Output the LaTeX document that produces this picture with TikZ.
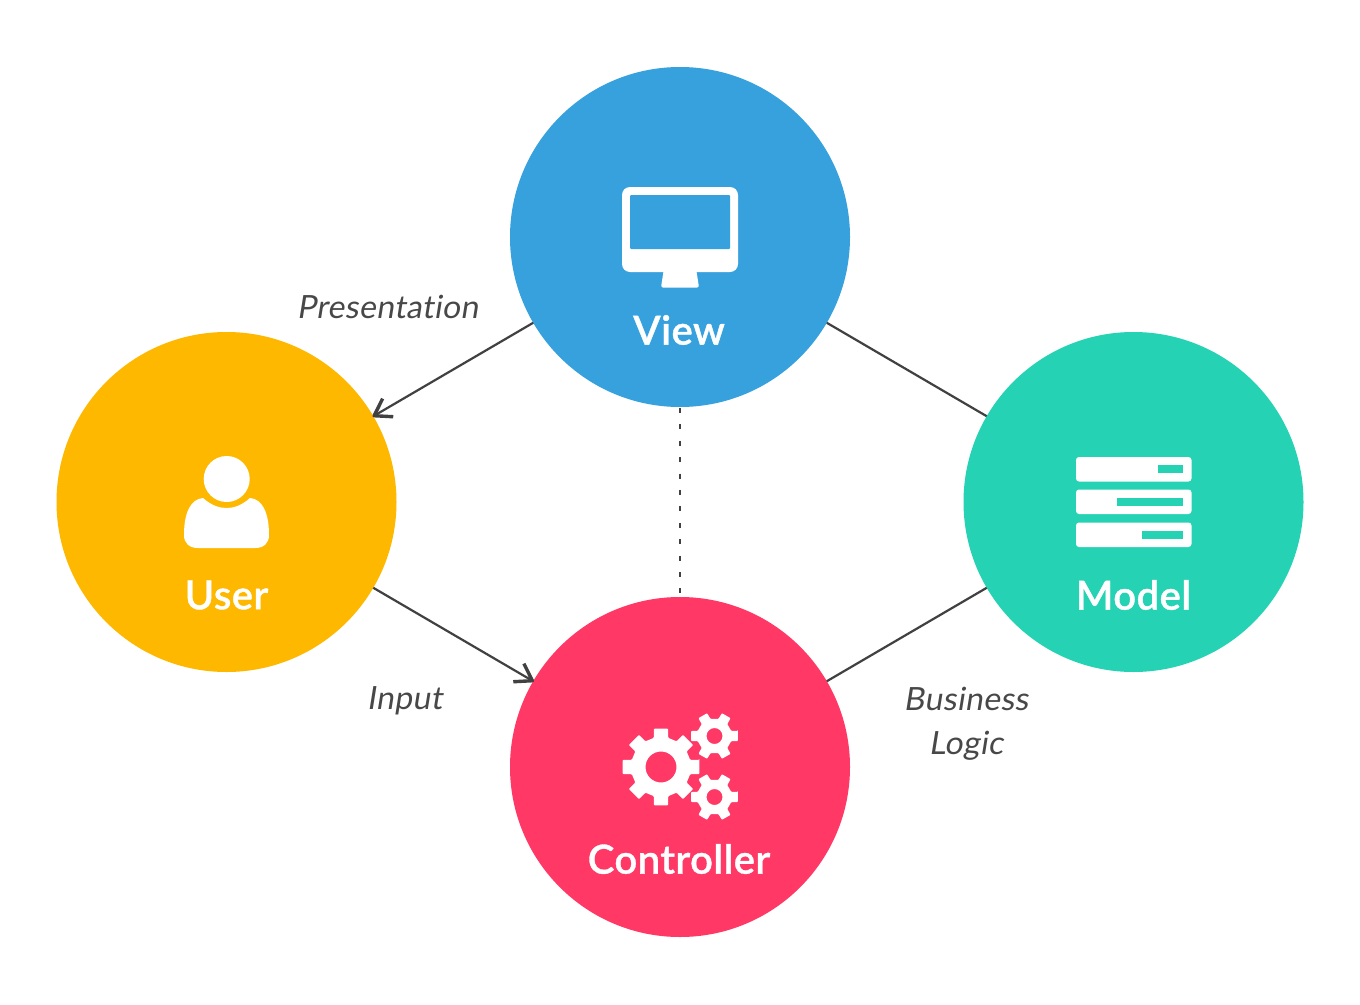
\documentclass[tikz,border=0pt]{standalone}
\usepackage{fontspec}
\setmainfont{Lato}
\newfontfamily\hubfont[LetterSpace=1.2,FakeBold=0.9]{Lato Semibold}
\newfontfamily\labfont[FakeSlant=0.16,LetterSpace=1.1,Ligatures=NoCommon]{Lato}
\usetikzlibrary{arrows.meta}
\definecolor{cview}{HTML}{37A1DE}
\definecolor{cuser}{HTML}{FEB800}
\definecolor{cmodel}{HTML}{25D2B3}
\definecolor{cctrl}{HTML}{FF3865}
\definecolor{cline}{HTML}{484848}
\pgfdeclarearrow{
  name=VeeBarb,
  setup code={\pgfarrowssettipend{0pt}\pgfarrowssetlineend{-2pt}\pgfarrowssetvisualbackend{-16pt}\pgfarrowssetbackend{-16pt}},
  drawing code={\pgfsetlinewidth{3.4pt}\pgfsetbuttcap\pgfsetroundjoin\pgfsetdash{}{0pt}
    \pgfpathmoveto{\pgfqpoint{-17pt}{10.5pt}}\pgfpathlineto{\pgfqpoint{-1pt}{0pt}}\pgfpathlineto{\pgfqpoint{-17pt}{-10.5pt}}\pgfusepathqstroke}
}
\tikzset{
  hub/.style={circle,fill=#1,draw=none,minimum size=340pt,inner sep=0pt,outer sep=0pt},
  hubtext/.style={text=white,font=\fontsize{40}{42}\selectfont\hubfont,inner sep=0pt},
  lab/.style={text=cline,font=\fontsize{32}{44}\selectfont\labfont,inner sep=0pt,align=center},
  link/.style={draw=cline!90!black,line width=2.2pt},
  barb/.style={-VeeBarb},
}
\begin{document}
\begin{tikzpicture}[x=1pt,y=-1pt]
\useasboundingbox (0,0) rectangle (1360,1004);
\fill[white] (0,0) rectangle (1360,1004);
\node[hub=cview] (view) at (680,237) {};
\node[hub=cuser] (user) at (226.5,502) {};
\node[hub=cmodel] (model) at (1133.5,502) {};
\node[hub=cctrl] (ctrl) at (680,767) {};
\draw[link,barb] (view) -- (user);
\draw[link,barb] (user) -- (ctrl);
\draw[link] (view) -- (model);
\draw[link] (model) -- (ctrl);
\draw[link,line width=2.6pt,dash pattern=on 5pt off 11.4pt,dash phase=-1pt] (view) -- (ctrl);
\node[hubtext] (tview) at (679,330) {View};
\node[hubtext] (tuser) at (226.5,595) {User};
\node[hubtext] (tmodel) at (1133.5,595) {Model};
\node[hubtext] (tctrl) at (679,859) {Controller};
\node[lab] (lpres) at (387.5,307) {Presentation};
\node[lab] (linput) at (404.5,701) {Input};
\node[lab] (lbus) at (966,723.5) {Business\\Logic};
% monitor
\fill[white,rounded corners=8pt] (622,187) rectangle (738,272);
\fill[cview,rounded corners=1pt] (630,195) rectangle (730,249);
\fill[white,rounded corners=2pt] (664,268) -- (696,268) -- (699,287.5) -- (661,287.5) -- cycle;
% user
\fill[white] (226.7,479) circle (23);
\fill[white] (203,498) .. controls (212,506) and (220,508) .. (226.7,508)
  .. controls (233,508) and (241,506) .. (250,498)
  .. controls (262,499) and (269,512) .. (269,535)
  .. controls (269,543) and (264,548) .. (255,548) -- (198,548)
  .. controls (189,548) and (184,543) .. (184,535)
  .. controls (184,512) and (191,499) .. (203,498) -- cycle;
% model
\foreach \y/\xs in {457/1158,489.5/1117,522.5/1142}{
  \fill[white,rounded corners=3pt] (1076,\y) rectangle (1191.5,\y+24.5);
  \fill[cmodel] (\xs,\y+8) rectangle (1183,\y+16);
}
% gears
\foreach \cx/\cy/\ro/\ri/\rh/\n/\ta/\tb in {661/767/39/30/15.5/8/10.5/14,714.5/736/24/17.5/8/6/12/17,714.5/797/24/17.5/8/6/12/17}{
  \pgfmathsetmacro{\st}{360/\n}
  \fill[white,even odd rule,rounded corners=0.8pt] ({\cx+\ro*cos(-\ta)},{\cy+\ro*sin(-\ta)})
    foreach \i in {1,...,\n}{
      -- ({\cx+\ro*cos((\i-1)*\st+\ta)},{\cy+\ro*sin((\i-1)*\st+\ta)})
      -- ({\cx+\ri*cos((\i-1)*\st+\tb)},{\cy+\ri*sin((\i-1)*\st+\tb)})
      -- ({\cx+\ri*cos(\i*\st-\tb)},{\cy+\ri*sin(\i*\st-\tb)})
      -- ({\cx+\ro*cos(\i*\st-\ta)},{\cy+\ro*sin(\i*\st-\ta)})
    } -- cycle
    (\cx,\cy) circle (\rh);
}
\end{tikzpicture}
\end{document}
